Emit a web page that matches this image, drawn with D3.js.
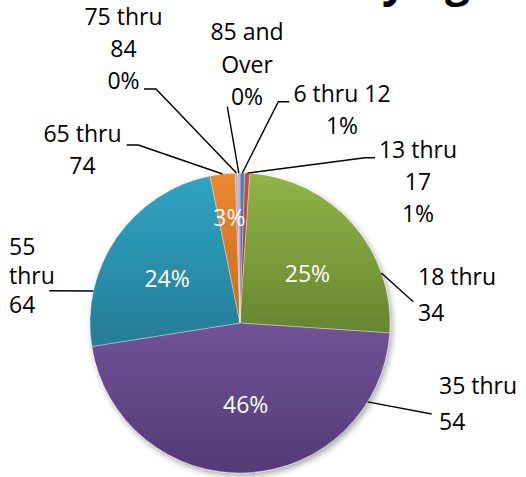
<!DOCTYPE html>
<html><head><meta charset="utf-8">
<script src="https://cdn.jsdelivr.net/npm/d3@7"></script>
<style>
html,body{margin:0;padding:0;background:#fff;}
svg{display:block;}
text{font-family:"Open Sans",Carlito,Lato,sans-serif;}
</style></head>
<body><svg id="chart" width="526" height="477"></svg>
<script>
// ---- data ----
const title = "Visitors by age";
const categories = ["6 thru 12","13 thru 17","18 thru 34","35 thru 54","55 thru 64","65 thru 74","75 thru 84","85 and Over"];
const values = [0.5, 0.55, 25.0, 46.45, 24.3, 2.7, 0.25, 0.25];

// ---- styles ----
const topColors    = ["#4F81C2","#C4504C","#91B546","#705396","#30A4C3","#EE8830","#9BAED9","#DAA09E"];
const bottomColors = ["#3A659E","#A23F3C","#67852F","#533A76","#247C95","#C86A1E","#7F93C2","#BF8482"];

// label layout (annotation placement, not data)
const outLayout = [
  {anchor:"middle", x:342,   ys:[102,134],          breaks:[99], pct:true,  leader:[[289.3,101.7],[278.3,101.7]]},
  {anchor:"middle", x:418,   ys:[157.5,190,222.3],  breaks:[2],  pct:true,  leader:[[375,157.7],[365,157.7]]},
  {anchor:"start",  x:418,   ys:[285,321],          breaks:[2],  pct:false, leader:[[413.3,301.7]], angle:70.5},
  {anchor:"start",  x:439,   ys:[394,430],          breaks:[2],  pct:false, leader:[[431.7,414]], angle:121.7},
  {anchor:"start",  x:9,     ys:[255,284,313],      breaks:[1,2],pct:false, leader:[[49.3,290.7]], angle:282.3},
  {anchor:"middle", x:82.5,  ys:[142.3,174],        breaks:[2],  pct:false, leader:[[126.7,145],[138.3,145]]},
  {anchor:"middle", x:123.5, ys:[25,57,89],         breaks:[2],  pct:true,  leader:[[144,89],[156,89]]},
  {anchor:"middle", x:247,   ys:[40,72.5,105],      breaks:[2],  pct:true,  leader:[[227.3,106.7]]}
];
const inLayout = {2:{rf:0.557,da:5}, 3:{rf:0.543,da:-1.4}, 4:{rf:0.568,da:-3.6}, 5:{rf:0.703,da:0.9}};

const W = 526, H = 477, cx = 240, cy = 323, R = 150, FS = 23;

const svg = d3.select("#chart");
const defs = svg.append("defs");
const f = defs.append("filter").attr("id","shadow").attr("x","-20%").attr("y","-20%").attr("width","140%").attr("height","140%");
f.append("feDropShadow").attr("dx",2).attr("dy",3).attr("stdDeviation",3).attr("flood-color","#000").attr("flood-opacity",0.35);

categories.forEach((c,i)=>{
  const g = defs.append("linearGradient").attr("id","grad"+i).attr("x1",0).attr("y1",0).attr("x2",0).attr("y2",1);
  g.append("stop").attr("offset","0%").attr("stop-color",topColors[i]);
  g.append("stop").attr("offset","100%").attr("stop-color",bottomColors[i]);
});

// title (only its descenders fall inside the picture, as in the reference)
const t = svg.append("text").text(title)
  .attr("x",0).attr("y",-4)
  .attr("font-size",44).attr("font-weight","bold").attr("fill","#000");
const yIdx = title.indexOf("by") + 1;
const p = t.node().getStartPositionOfChar(yIdx);
t.attr("x", 382 - p.x);

const data = categories.map((c,i)=>({cat:c, value:values[i], i}));
const pie = d3.pie().sort(null).value(d=>d.value).startAngle(0).endAngle(2*Math.PI);
const arcs = pie(data);
const arc = d3.arc().innerRadius(0).outerRadius(R);

const gp = svg.append("g").attr("transform",`translate(${cx},${cy})`);
gp.append("g").attr("filter","url(#shadow)")
  .selectAll("path").data(arcs).join("path")
  .attr("d",arc)
  .attr("fill",d=>`url(#grad${d.data.i})`)
  .attr("stroke","rgba(255,255,255,0.55)").attr("stroke-width",0.6);

const pct = v => Math.round(v) + "%";
const polar = (deg, r) => { const a = deg*Math.PI/180; return [cx + r*Math.sin(a), cy - r*Math.cos(a)]; };

// inside labels
arcs.forEach(a=>{
  const L = inLayout[a.data.i]; if(!L) return;
  const mid = (a.startAngle + a.endAngle)/2*180/Math.PI + L.da;
  const [x,y] = polar(mid, R*L.rf);
  svg.append("text").attr("x",x).attr("y",y).attr("dy","0.36em")
    .attr("text-anchor","middle").attr("font-size",FS).attr("fill","#fff")
    .text(pct(a.data.value));
});

// outside labels with leader lines
arcs.forEach(a=>{
  const L = outLayout[a.data.i];
  const words = a.data.cat.split(" ");
  const lines = [];
  let prev = 0;
  L.breaks.forEach(b=>{ if(b < words.length){ lines.push(words.slice(prev,b).join(" ")); prev = b; } });
  lines.push(words.slice(prev).join(" "));
  if(L.pct) lines.push(pct(a.data.value));
  lines.forEach((ln,k)=>{
    svg.append("text").attr("x",L.x).attr("y",L.ys[k])
      .attr("text-anchor",L.anchor).attr("font-size",FS).attr("fill","#000").text(ln);
  });
  const ang = L.angle !== undefined ? L.angle : (a.startAngle + a.endAngle)/2*180/Math.PI;
  const pts = L.leader.concat([polar(ang, R)]);
  svg.append("path").attr("d", d3.line()(pts))
    .attr("fill","none").attr("stroke","#000").attr("stroke-width",1.4);
});
</script></body></html>
